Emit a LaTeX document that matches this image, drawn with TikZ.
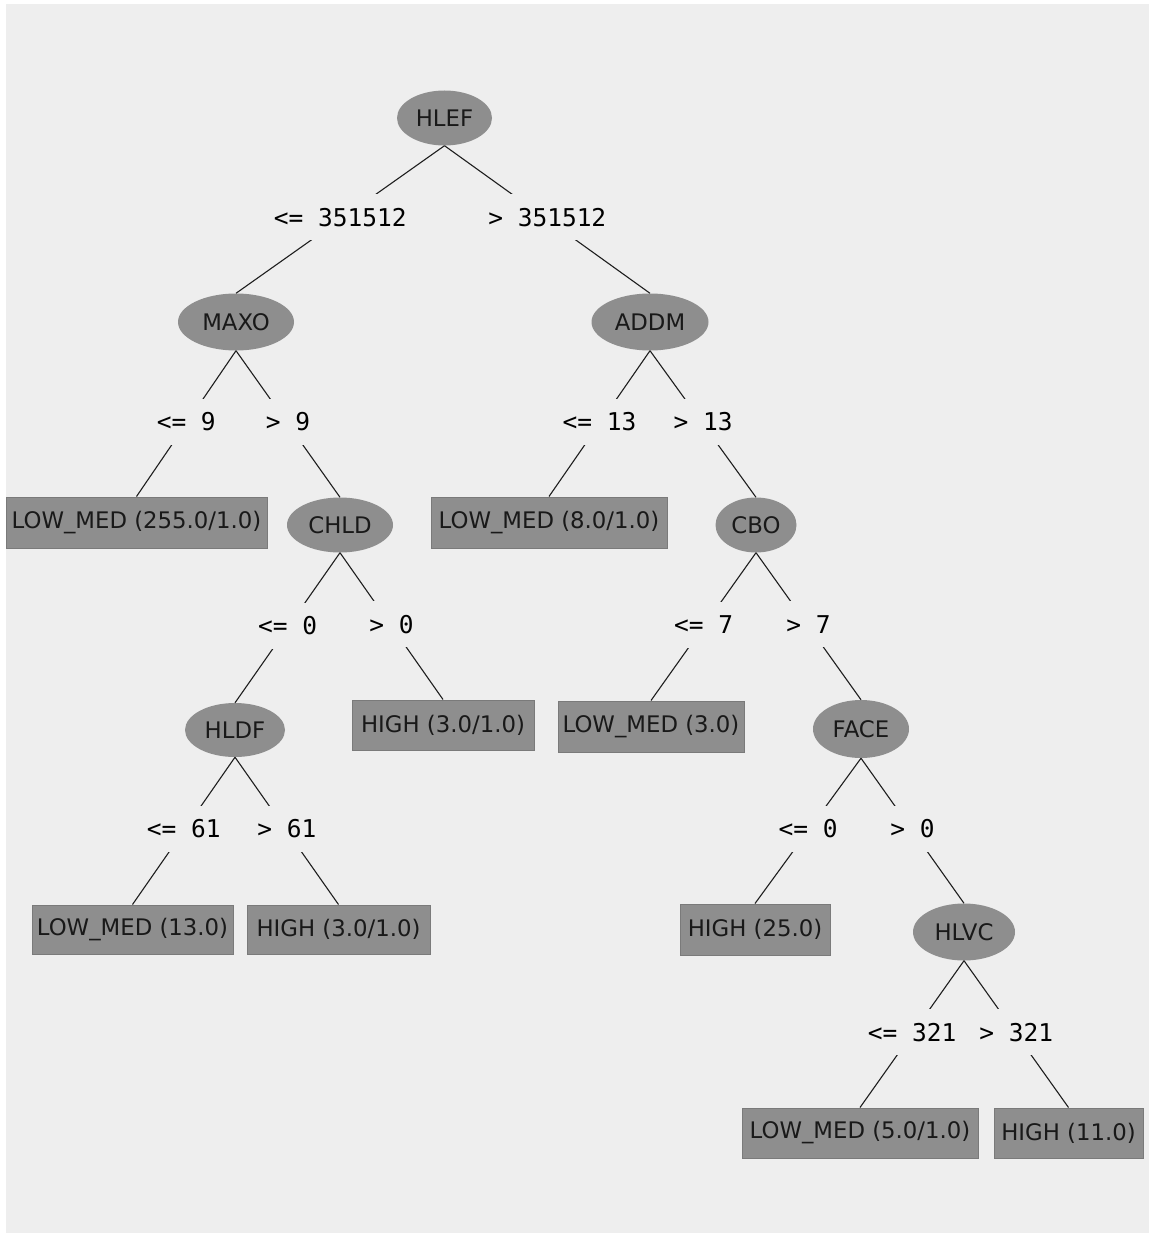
\documentclass[tikz,border=0pt]{standalone}
\usepackage{fontspec}
\setmainfont{DejaVu Sans}
\newfontfamily\lblfont{DejaVu Sans Mono}
\usetikzlibrary{shapes.geometric}
\definecolor{bgc}{HTML}{EEEEEE}
\definecolor{ndc}{HTML}{8E8E8E}
\definecolor{bdc}{HTML}{7A7A7A}
\definecolor{lnc}{HTML}{1E1E1E}
\begin{document}
\begin{tikzpicture}[x=1pt,y=-1pt,
  splitnode/.style={ellipse, fill=ndc, inner sep=0pt, font=\fontsize{22.8}{26}\selectfont, text=black!90},
  leafbox/.style={rectangle, fill=ndc, draw=bdc, line width=1pt, inner sep=0pt, font=\fontsize{22.8}{26}\selectfont, text=black!90},
  condlbl/.style={midway, fill=bgc, inner xsep=1pt, inner ysep=0pt, minimum height=46pt, yshift=2pt, font=\lblfont\fontsize{24.5}{28}\selectfont, text=black},
  branch/.style={draw=lnc, line width=1.1pt}]
\useasboundingbox (0,0) rectangle (1149,1233);
\fill[white] (0,0) rectangle (1149,1233);
\fill[bgc] (6,4) rectangle (1149,1233);

% decision nodes
\node[splitnode, minimum width=95pt, minimum height=55pt] (hlef) at (444.5,118) {HLEF};
\node[splitnode, minimum width=116pt, minimum height=57pt] (maxo) at (236,322) {MAXO};
\node[splitnode, minimum width=117pt, minimum height=57pt] (addm) at (650,322) {ADDM};
\node[splitnode, minimum width=106pt, minimum height=55pt] (chld) at (340,525) {CHLD};
\node[splitnode, minimum width=81pt, minimum height=55pt] (cbo) at (756,525) {CBO};
\node[splitnode, minimum width=100pt, minimum height=54pt] (hldf) at (235,730) {HLDF};
\node[splitnode, minimum width=96pt, minimum height=58pt] (face) at (861,729) {FACE};
\node[splitnode, minimum width=102pt, minimum height=57pt] (hlvc) at (964,932) {HLVC};

% leaves
\node[leafbox, minimum width=261pt, minimum height=51pt] (l1) at (136.5,522.5) {LOW\_MED (255.0/1.0)};
\node[leafbox, minimum width=236pt, minimum height=51pt] (l2) at (549,522.5) {LOW\_MED (8.0/1.0)};
\node[leafbox, minimum width=182pt, minimum height=50pt] (l3) at (443,725) {HIGH (3.0/1.0)};
\node[leafbox, minimum width=186pt, minimum height=51pt] (l4) at (651,726.5) {LOW\_MED (3.0)};
\node[leafbox, minimum width=201pt, minimum height=49pt] (l5) at (132.5,929.5) {LOW\_MED (13.0)};
\node[leafbox, minimum width=183pt, minimum height=49pt] (l6) at (338.5,929.5) {HIGH (3.0/1.0)};
\node[leafbox, minimum width=150pt, minimum height=51pt] (l7) at (755,929.5) {HIGH (25.0)};
\node[leafbox, minimum width=236pt, minimum height=50pt] (l8) at (860,1133) {LOW\_MED (5.0/1.0)};
\node[leafbox, minimum width=149pt, minimum height=50pt] (l9) at (1068.5,1133) {HIGH (11.0)};

% branches
\path[branch] (hlef.south) -- node[condlbl] {<= 351512} (maxo.north);
\path[branch] (hlef.south) -- node[condlbl] {> 351512} (addm.north);
\path[branch] (maxo.south) -- node[condlbl] {<= 9} (l1.north);
\path[branch] (maxo.south) -- node[condlbl] {> 9} (chld.north);
\path[branch] (addm.south) -- node[condlbl] {<= 13} (l2.north);
\path[branch] (addm.south) -- node[condlbl] {> 13} (cbo.north);
\path[branch] (chld.south) -- node[condlbl] {<= 0} (hldf.north);
\path[branch] (chld.south) -- node[condlbl] {> 0} (l3.north);
\path[branch] (cbo.south) -- node[condlbl] {<= 7} (l4.north);
\path[branch] (cbo.south) -- node[condlbl] {> 7} (face.north);
\path[branch] (hldf.south) -- node[condlbl] {<= 61} (l5.north);
\path[branch] (hldf.south) -- node[condlbl] {> 61} (l6.north);
\path[branch] (face.south) -- node[condlbl] {<= 0} (l7.north);
\path[branch] (face.south) -- node[condlbl] {> 0} (hlvc.north);
\path[branch] (hlvc.south) -- node[condlbl] {<= 321} (l8.north);
\path[branch] (hlvc.south) -- node[condlbl] {> 321} (l9.north);
\end{tikzpicture}
\end{document}
